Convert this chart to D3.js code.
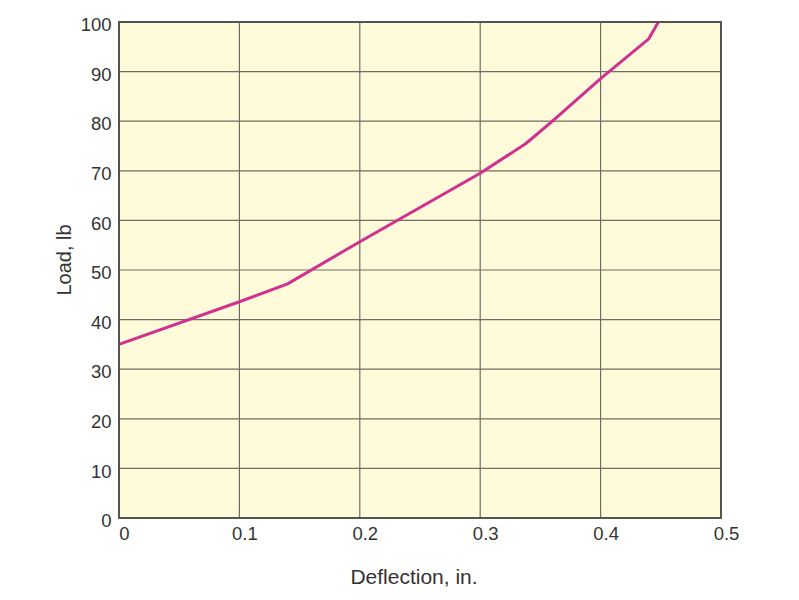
<!DOCTYPE html>
<html><head><meta charset="utf-8">
<script src="https://cdn.jsdelivr.net/npm/d3@7"></script>
<style>body{margin:0;background:#fff;} text{font-family:"Liberation Sans",Arial,Helvetica,sans-serif;}</style>
</head><body>
<svg id="c" width="799" height="600"></svg>
<script>
const deflection = [0, 0.1, 0.14, 0.2, 0.3, 0.338, 0.36, 0.4, 0.44, 0.448];
const load = [35, 43.6, 47.2, 55.7, 69.5, 75.5, 80, 88.6, 96.6, 100];
const xTicks = [0, 0.1, 0.2, 0.3, 0.4, 0.5];
const yTicks = [0, 10, 20, 30, 40, 50, 60, 70, 80, 90, 100];
const xTitle = "Deflection, in.";
const yTitle = "Load, lb";

const svg = d3.select("#c");
const L = 119, R = 721, T = 22, B = 518;
const x = d3.scaleLinear().domain([0, 0.5]).range([L, R]);
const y = d3.scaleLinear().domain([0, 100]).range([B, T]);

svg.append("rect").attr("x", L).attr("y", T).attr("width", R - L).attr("height", B - T).attr("fill", "#fffad9");

const g = svg.append("g");
g.selectAll(".vg").data(xTicks.slice(1, -1)).join("line")
  .attr("x1", d => x(d)).attr("x2", d => x(d)).attr("y1", T).attr("y2", B)
  .attr("stroke", "#6e6e62").attr("stroke-width", 1.2);
g.selectAll(".hg").data(yTicks.slice(1, -1)).join("line")
  .attr("x1", L).attr("x2", R).attr("y1", d => y(d)).attr("y2", d => y(d))
  .attr("stroke", "#6e6e62").attr("stroke-width", 1.2);

const pts = deflection.map((d, i) => [d, load[i]]);
svg.append("path").datum(pts)
  .attr("d", d3.line().x(d => x(d[0])).y(d => y(d[1])))
  .attr("fill", "none").attr("stroke", "#d0318f").attr("stroke-width", 3).attr("stroke-linejoin", "round");

svg.append("rect").attr("x", L).attr("y", T).attr("width", R - L).attr("height", B - T)
  .attr("fill", "none").attr("stroke", "#555550").attr("stroke-width", 2);

const xa = svg.append("g").attr("transform", `translate(0,${B})`)
  .call(d3.axisBottom(x).tickValues(xTicks).tickFormat(d => d === 0 ? "0" : d3.format(".1f")(d)).tickSize(0).tickPadding(0));
xa.select(".domain").remove();
xa.selectAll("text").attr("font-size", 18.5).attr("fill", "#333").attr("dx", 5).attr("dy", 0).attr("y", 22)
  .attr("font-family", "Liberation Sans, Arial, sans-serif");

const ya = svg.append("g").attr("transform", `translate(${L},0)`)
  .call(d3.axisLeft(y).tickValues(yTicks).tickSize(0).tickPadding(7.5));
ya.select(".domain").remove();
ya.selectAll("text").attr("font-size", 18.5).attr("fill", "#333").attr("dy", "0.47em")
  .attr("font-family", "Liberation Sans, Arial, sans-serif");

svg.append("text").attr("x", 414).attr("y", 584).attr("text-anchor", "middle")
  .attr("font-size", 21).attr("fill", "#333").text(xTitle);
svg.append("text").attr("transform", "translate(71,260) rotate(-90)").attr("text-anchor", "middle")
  .attr("font-size", 20).attr("fill", "#333").text(yTitle);
</script>
</body></html>
